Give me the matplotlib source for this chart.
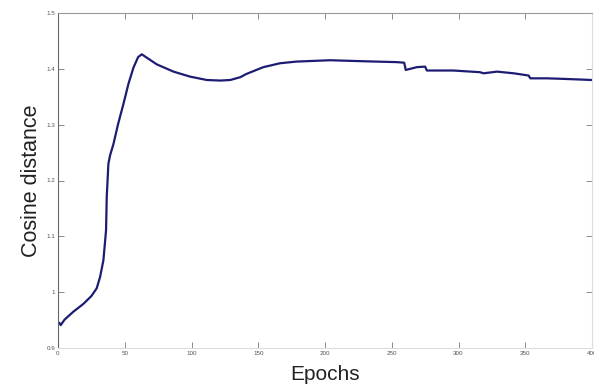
import matplotlib
matplotlib.use("Agg")
import matplotlib.pyplot as plt

epochs = [0, 1, 2, 5, 11.5, 19, 25, 29, 31.5, 34, 36, 36.5, 37.75, 39, 41.5, 45, 49,
          52.75, 56.5, 60, 62.75, 66.5, 74, 86.5, 99, 111.5, 121.5, 129, 136.5, 141.3,
          153.8, 166.3, 178.8, 203.8, 228.8, 253.8, 259.3, 260.5, 268.8, 275, 276.3,
          296, 316, 318.8, 328.8, 341.3, 352.5, 353.8, 366.3, 378.8, 400]
cos_dist = [0.946, 0.945, 0.941, 0.951, 0.965, 0.979, 0.993, 1.007, 1.027, 1.057, 1.111,
            1.170, 1.230, 1.245, 1.265, 1.301, 1.337, 1.373, 1.402, 1.421, 1.426, 1.420,
            1.408, 1.395, 1.386, 1.380, 1.379, 1.380, 1.385, 1.391, 1.403, 1.410, 1.413,
            1.4154, 1.4136, 1.412, 1.411, 1.398, 1.403, 1.404, 1.397, 1.397, 1.394, 1.392,
            1.395, 1.392, 1.388, 1.383, 1.383, 1.382, 1.380]

xticks = [0, 50, 100, 150, 200, 250, 300, 350, 400]
yticks = [0.9, 1.0, 1.1, 1.2, 1.3, 1.4, 1.5]
ytick_labels = ["0.9", "1", "1.1", "1.2", "1.3", "1.4", "1.5"]

plt.rcParams['font.family'] = ['Liberation Sans', 'DejaVu Sans']
fig = plt.figure(figsize=(5.94, 3.87), dpi=100)
ax = fig.add_axes([58/594, 1 - 348/387, (592 - 58)/594, (348 - 13)/387])
ax.plot(epochs, cos_dist, color="#1c1c72", lw=1.6)
ax.set_xlim(0, 400)
ax.set_ylim(0.9, 1.5)
ax.set_xticks(xticks)
ax.set_xticklabels([str(t) for t in xticks])
ax.set_yticks(yticks)
ax.set_yticklabels(ytick_labels)
ax.tick_params(direction="in", length=4, width=0.6, colors="#777777", labelsize=4.5,
               labelcolor="#555555", top=True, right=True, pad=2)
for side, c in [("left", "#666666"), ("top", "#999999"), ("right", "#dddddd"), ("bottom", "#dddddd")]:
    ax.spines[side].set_color(c)
    ax.spines[side].set_linewidth(0.8)
ax.set_xlabel("Epochs", fontsize=15, color="#222222", labelpad=7)
ax.set_ylabel("Cosine distance", fontsize=15.5, color="#222222", labelpad=3)
fig.savefig("out.png", dpi=100)
